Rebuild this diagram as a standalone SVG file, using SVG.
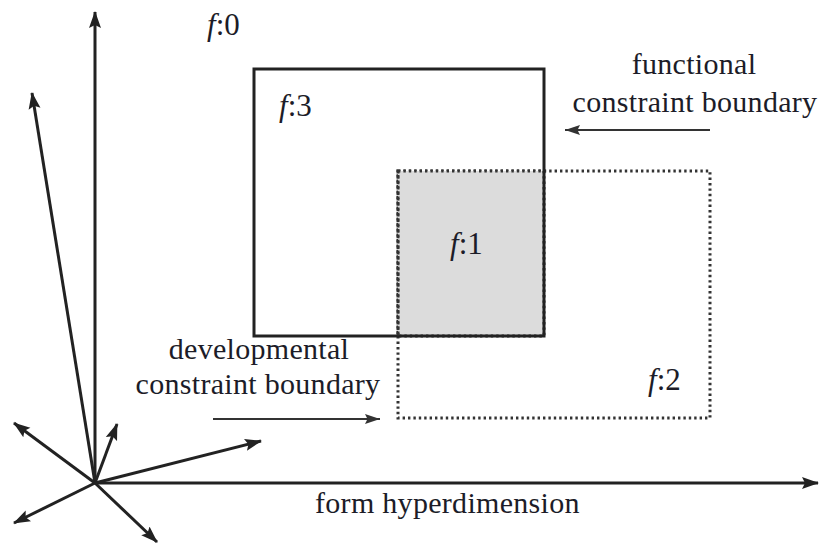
<svg xmlns="http://www.w3.org/2000/svg" width="825" height="545" viewBox="0 0 825 545">
<defs>
<marker id="ah" markerUnits="userSpaceOnUse" markerWidth="18" markerHeight="14" viewBox="0 0 18 14" refX="16" refY="7" orient="auto">
<path d="M0,1 L17,7 L0,13 L3,7 Z" fill="#222"/>
</marker>
<marker id="ahs" markerUnits="userSpaceOnUse" markerWidth="16" markerHeight="12" viewBox="0 0 16 12" refX="15" refY="6" orient="auto">
<path d="M0,1 L15,6 L0,11 L2.5,6 Z" fill="#333"/>
</marker>
</defs>
<style>
.ax{stroke:#222;stroke-width:3;fill:none;marker-end:url(#ah)}
.ar{stroke:#333;stroke-width:2.2;fill:none;marker-end:url(#ahs)}
.t{font-family:"Liberation Serif","Times New Roman",serif;font-size:31px;fill:#1c1c28}
.lb{font-family:"Liberation Serif","Times New Roman",serif;font-size:30px;fill:#1c1c28;letter-spacing:0.3px}
.dot{fill:none;stroke:#333;stroke-width:3;stroke-dasharray:2.4 3}
</style>
<rect width="825" height="545" fill="#fff"/>
<g id="connectors">
<line class="ax" x1="95" y1="483" x2="95" y2="12"/>
<line class="ax" x1="95" y1="483" x2="32" y2="93"/>
<line class="ax" x1="95" y1="483" x2="818" y2="483"/>
<line class="ax" x1="95" y1="483" x2="14" y2="423"/>
<line class="ax" x1="95" y1="483" x2="117" y2="424"/>
<line class="ax" x1="95" y1="483" x2="261" y2="441"/>
<line class="ax" x1="95" y1="483" x2="14" y2="523"/>
<line class="ax" x1="95" y1="483" x2="157" y2="542"/>
<line class="ar" x1="710" y1="130" x2="565" y2="130"/>
<line class="ar" x1="213" y1="419" x2="380" y2="419"/>
</g>
<g id="f2">
<rect class="dot" x="398" y="171" width="312" height="247"/>
<text class="t" x="648" y="390"><tspan font-style="italic">f</tspan>:2</text>
</g>
<g id="f1">
<rect x="398" y="171" width="146" height="165" fill="#dcdcdc"/>
<rect class="dot" x="398" y="171" width="146" height="165"/>
<text class="t" x="450" y="254"><tspan font-style="italic">f</tspan>:1</text>
</g>
<g id="f3">
<rect x="254" y="69" width="290" height="267" fill="none" stroke="#222" stroke-width="3"/>
<line x1="398" y1="171" x2="398" y2="336" class="dot"/>
<text class="t" x="279" y="116"><tspan font-style="italic">f</tspan>:3</text>
</g>
<g id="f0">
<text class="t" x="207" y="35"><tspan font-style="italic">f</tspan>:0</text>
</g>
<g id="functional">
<text class="lb" text-anchor="middle" x="694" y="74">functional</text>
<text class="lb" text-anchor="middle" x="695" y="112">constraint boundary</text>
</g>
<g id="developmental">
<text class="lb" text-anchor="middle" x="259" y="359">developmental</text>
<text class="lb" text-anchor="middle" x="258" y="394">constraint boundary</text>
</g>
<g id="form">
<text class="lb" x="315" y="513">form hyperdimension</text>
</g>
</svg>
